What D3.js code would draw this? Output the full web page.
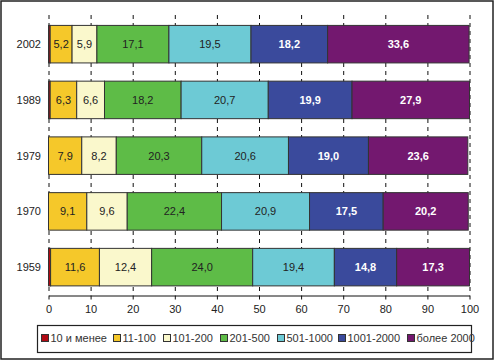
<!DOCTYPE html>
<html><head><meta charset="utf-8">
<script src="https://cdn.jsdelivr.net/npm/d3@7"></script>
<style>body{margin:0;background:#fff}svg{display:block;font-family:"Liberation Sans",Arial,sans-serif}</style>
</head><body><svg id="c" width="495" height="361"></svg>
<script>
const years = ["2002","1989","1979","1970","1959"];
const seriesNames = ["10 и менее","11-100","101-200","201-500","501-1000","1001-2000","более 2000"];
const colors = ["#B00A14","#F5C82A","#FAF8CC","#5EBC47","#6DCAD5","#3A4A9C","#73186F"];
const textColors = ["#222","#222","#222","#222","#222","#fff","#fff"];
const v2002 = [0.4,5.2,5.9,17.1,19.5,18.2,33.6];
const v1989 = [0.4,6.3,6.6,18.2,20.7,19.9,27.9];
const v1979 = [0,7.9,8.2,20.3,20.6,19.0,23.6];
const v1970 = [0,9.1,9.6,22.4,20.9,17.5,20.2];
const v1959 = [0.5,11.6,12.4,24.0,19.4,14.8,17.3];
const xTicks = [0,10,20,30,40,50,60,70,80,90,100];
const rows = [v2002,v1989,v1979,v1970,v1959];

const svg = d3.select("#c");
svg.append("rect").attr("x",1).attr("y",1).attr("width",492).attr("height",358)
  .attr("fill","#fff").attr("stroke","#222").attr("stroke-width",1.5);

const x = d3.scaleLinear().domain([0,100]).range([48.5,469.5]);
const y = d3.scaleBand().domain(years).range([16.3,295]).paddingInner(0.327).paddingOuter(0.1635);

// gridlines
svg.append("g").selectAll("line").data(xTicks).join("line")
  .attr("x1",d=>x(d)+0.5).attr("x2",d=>x(d)+0.5).attr("y1",15).attr("y2",295)
  .attr("stroke","#111").attr("stroke-width",1).attr("stroke-dasharray","4,4");

// bars
years.forEach((yr,i)=>{
  const vals = rows[i];
  let acc = 0;
  const g = svg.append("g");
  vals.forEach((v,j)=>{
    const x0 = acc, x1 = acc+v; acc = x1;
    if (v<=0) return;
    g.append("rect").attr("x",x(x0)).attr("y",y(yr))
      .attr("width",x(x1)-x(x0)).attr("height",y.bandwidth())
      .attr("fill",colors[j]).attr("stroke","#333").attr("stroke-width",1);
    if (j>0) {
      g.append("text").attr("x",(x(x0)+x(x1))/2).attr("y",y(yr)+y.bandwidth()/2)
        .attr("dy","0.35em").attr("text-anchor","middle").attr("font-size",11)
        .attr("fill",textColors[j]).attr("font-weight",j>=5?"bold":"normal")
        .text(d3.format(".1f")(v).replace(".",","));
    }
  });
  svg.append("text").attr("x",41).attr("y",y(yr)+y.bandwidth()/2).attr("dy","0.35em")
    .attr("text-anchor","end").attr("font-size",11).attr("fill","#222").text(yr);
});

// x axis
const ax = svg.append("g").attr("transform","translate(0,295.5)")
  .call(d3.axisBottom(x).tickValues(xTicks).tickSize(4).tickSizeOuter(0).tickPadding(6));
ax.select(".domain").attr("stroke","#111");
ax.selectAll(".tick line").attr("stroke","#111");
ax.selectAll("text").attr("font-size",11).attr("fill","#222").attr("font-family","Liberation Sans, Arial, sans-serif");

// legend
svg.append("rect").attr("x",37.5).attr("y",325.5).attr("width",434).attr("height",27)
  .attr("fill","#fff").attr("stroke","#222").attr("stroke-width",1.2);
const legX = [41,113,163,220,277,338,407];
const lg = svg.append("g").selectAll("g").data(seriesNames).join("g")
  .attr("transform",(d,i)=>`translate(${legX[i]},334)`);
lg.append("rect").attr("x",0.5).attr("y",0.5).attr("width",7).attr("height",7)
  .attr("fill",(d,i)=>colors[i]).attr("stroke","#333").attr("stroke-width",1);
lg.append("text").attr("x",9.5).attr("y",4).attr("dy","0.35em").attr("font-size",11)
  .attr("fill","#333").text(d=>d);
</script></body></html>
